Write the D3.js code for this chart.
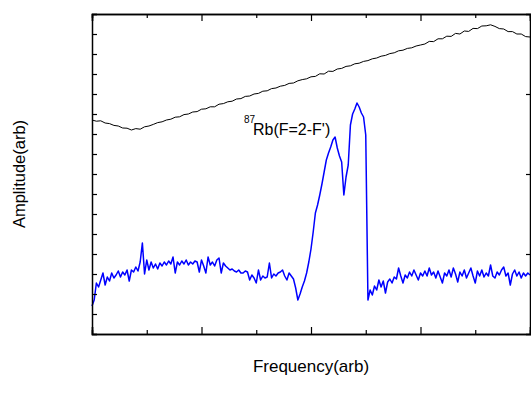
<!DOCTYPE html>
<html>
<head>
<meta charset="utf-8">
<script src="https://cdn.jsdelivr.net/npm/d3@7"></script>
<style>
  html, body { margin: 0; padding: 0; background: #fff; }
  svg { display: block; }
  text { font-family: "Liberation Sans", Arial, sans-serif; fill: #000; }
</style>
</head>
<body>
<svg id="chart" width="531" height="401"></svg>
<script>
// ---- data (arbitrary units) ----
const xStart = 0, xEnd = 8;
// black trace (reference), 101 samples spanning xStart..xEnd
const blackValues = [
  10.70,10.64,10.66,10.55,10.52,10.43,10.40,10.30,10.29,10.20,
  10.27,10.24,10.36,10.40,10.48,10.57,10.61,10.70,10.74,10.84,
  10.86,10.97,11.00,11.10,11.12,11.24,11.26,11.36,11.36,11.49,
  11.52,11.61,11.64,11.75,11.77,11.88,11.90,12.00,12.03,12.14,
  12.16,12.27,12.30,12.39,12.43,12.53,12.55,12.66,12.72,12.76,
  12.86,12.88,13.01,13.00,13.14,13.13,13.25,13.28,13.38,13.41,
  13.51,13.54,13.63,13.67,13.76,13.80,13.89,13.93,14.02,14.06,
  14.16,14.19,14.28,14.31,14.40,14.45,14.50,14.63,14.62,14.76,
  14.76,14.89,14.88,15.03,15.00,15.15,15.13,15.28,15.27,15.40,
  15.41,15.46,15.38,15.27,15.25,15.12,15.12,15.00,15.00,14.87,
  14.85
];
// blue trace (87Rb F=2-F' signal), 201 samples spanning xStart..xEnd
const blueValues = [
  1.40,1.70,2.55,2.35,2.70,3.05,2.45,2.85,2.65,3.05,
  2.80,2.95,3.15,2.85,3.10,2.95,3.20,2.65,3.20,3.10,
  3.35,3.15,3.60,4.55,3.00,3.70,3.20,3.60,3.30,3.50,
  3.25,3.55,3.40,3.60,3.45,3.65,3.50,3.85,3.05,3.60,
  3.45,3.65,3.50,3.70,3.45,3.60,3.50,3.65,3.60,3.10,
  3.70,3.40,3.05,3.85,3.45,3.60,3.40,3.70,3.80,3.05,
  3.55,3.40,3.30,3.20,3.25,3.15,3.10,3.20,3.05,3.05,
  3.15,3.10,2.70,2.95,2.80,2.55,3.20,2.70,2.90,2.80,
  2.85,3.55,2.80,3.00,2.90,3.05,3.10,3.20,2.90,2.70,
  3.05,2.90,2.75,2.30,1.70,2.00,2.35,2.65,3.05,3.60,
  4.25,5.10,6.05,6.45,6.95,7.50,8.10,8.70,9.05,9.35,
  9.70,9.85,9.30,8.90,8.60,6.95,7.85,8.45,10.45,11.00,
  11.25,11.55,11.35,11.05,10.85,9.95,1.70,2.20,1.95,2.40,
  2.20,2.70,2.35,2.65,2.05,2.60,2.75,2.55,2.85,2.75,
  3.30,2.90,2.55,2.95,2.80,3.10,2.90,3.20,2.95,2.70,
  3.05,2.90,3.15,2.90,3.30,2.95,3.10,2.80,3.15,2.85,
  2.55,3.05,2.90,3.20,2.85,3.30,3.00,2.60,3.10,2.90,
  3.20,2.80,3.05,3.30,2.90,2.55,3.15,2.90,3.20,2.85,
  3.05,2.90,3.45,2.90,2.80,3.10,2.95,3.20,3.35,2.90,
  3.05,2.45,3.00,3.20,2.90,3.10,2.80,3.05,2.90,3.05,
  2.95
];
const xMinorTicks = [1,3,5,7];
const xMajorTicks = [0,2,4,6,8];
const yTicks = [0,1,2,3,4,5,6,7,8,9,10,11,12,13,14,15,16];
const yRightTicks = [4,8,12];
const xLabel = "Frequency(arb)";
const yLabel = "Amplitude(arb)";
const annotationSup = "87";
const annotationText = "Rb(F=2-F')";
const annotationPos = [2.94, 9.95];

// ---- layout ----
const mLeft = 92, mRight = 530, mTop = 14, mBottom = 334;
const svg = d3.select("#chart");
const x = d3.scaleLinear().domain([xStart, xEnd]).range([mLeft, mRight]);
const y = d3.scaleLinear().domain([0, 16]).range([mBottom, mTop]);

const xAt = (n) => (i) => xStart + (xEnd - xStart) * i / (n - 1);
const blackX = xAt(blackValues.length), blueX = xAt(blueValues.length);

const makeLine = (fx) => d3.line().x((d, i) => x(fx(i))).y(d => y(d));

svg.append("path").datum(blackValues)
  .attr("d", makeLine(blackX)).attr("fill", "none")
  .attr("stroke", "#000").attr("stroke-width", 1);

svg.append("path").datum(blueValues)
  .attr("d", makeLine(blueX)).attr("fill", "none")
  .attr("stroke", "#0000ff").attr("stroke-width", 1.5)
  .attr("stroke-linejoin", "round");

// axes with inward ticks, no labels
const axes = [
  svg.append("g").attr("transform", `translate(0,${mBottom})`)
    .call(d3.axisBottom(x).tickValues(xMajorTicks).tickSize(-7).tickFormat("")),
  svg.append("g").attr("transform", `translate(0,${mBottom})`)
    .call(d3.axisBottom(x).tickValues(xMinorTicks).tickSize(-4).tickFormat("")),
  svg.append("g").attr("transform", `translate(0,${mTop})`)
    .call(d3.axisTop(x).tickValues(xMajorTicks).tickSize(-7).tickFormat("")),
  svg.append("g").attr("transform", `translate(0,${mTop})`)
    .call(d3.axisTop(x).tickValues(xMinorTicks).tickSize(-4).tickFormat("")),
  svg.append("g").attr("transform", `translate(${mLeft},0)`)
    .call(d3.axisLeft(y).tickValues(yTicks).tickSize(-5).tickFormat("")),
  svg.append("g").attr("transform", `translate(${mRight},0)`)
    .call(d3.axisRight(y).tickValues(yRightTicks).tickSize(-4).tickFormat(""))
];
axes.forEach(g => {
  g.select(".domain").attr("stroke", "#000").attr("stroke-width", 1.5);
  g.selectAll(".tick line").attr("stroke", "#000").attr("stroke-width", 1.2);
});

// axis titles
svg.append("text").attr("x", (mLeft + mRight) / 2).attr("y", 372)
  .attr("text-anchor", "middle").attr("font-size", 17).text(xLabel);
svg.append("text").attr("transform", `translate(25,${(mTop + mBottom) / 2}) rotate(-90)`)
  .attr("text-anchor", "middle").attr("font-size", 16.5).text(yLabel);

// annotation
const ax = x(annotationPos[0]), ay = y(annotationPos[1]);
svg.append("text").attr("x", ax - 9).attr("y", ay - 12)
  .attr("font-size", 10).text(annotationSup);
svg.append("text").attr("x", ax).attr("y", ay)
  .attr("font-size", 16).text(annotationText);
</script>
</body>
</html>
